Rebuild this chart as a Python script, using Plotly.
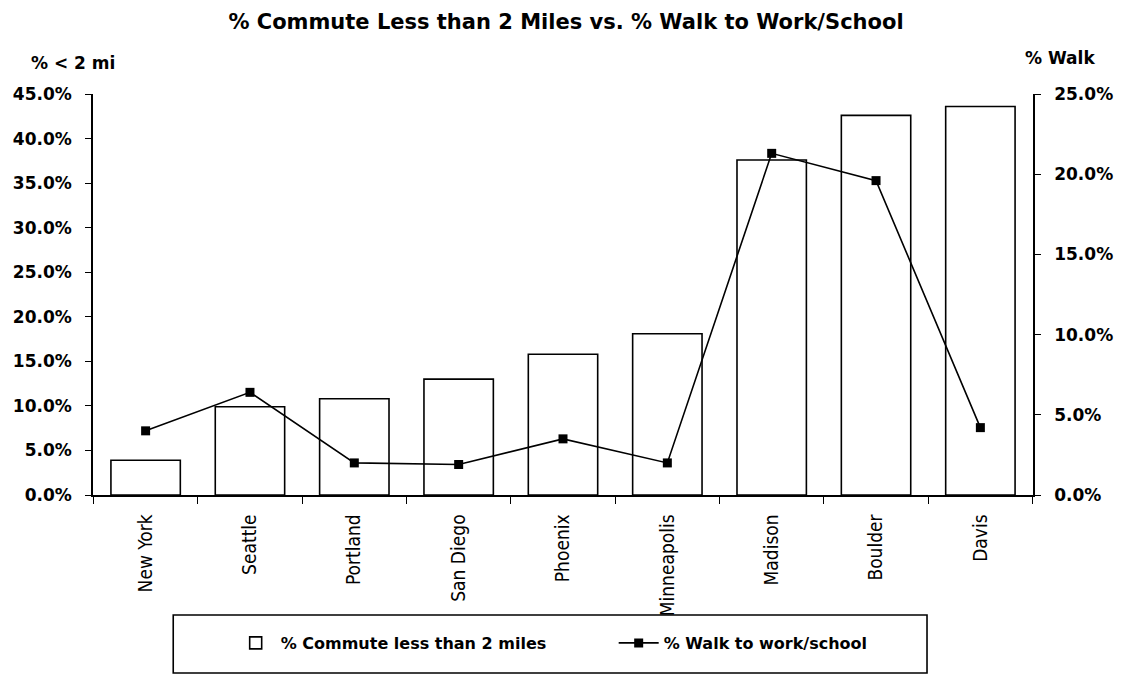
import plotly.graph_objects as go

cities = ["New York", "Seattle", "Portland", "San Diego", "Phoenix",
          "Minneapolis", "Madison", "Boulder", "Davis"]
commute_lt2 = [3.9, 9.9, 10.8, 13.0, 15.8, 18.1, 37.6, 42.6, 43.6]
walk_pct = [4.0, 6.4, 2.0, 1.9, 3.5, 2.0, 21.3, 19.6, 4.2]

left_ticks = [0, 5, 10, 15, 20, 25, 30, 35, 40, 45]
right_ticks = [0, 5, 10, 15, 20, 25]

BOLD = "DejaVu Sans"
NARROW = "Liberation Sans Narrow, DejaVu Sans Condensed, Liberation Sans"

fig = go.Figure()
fig.add_trace(go.Bar(
    x=cities, y=commute_lt2, name="<b>% Commute less than 2 miles</b>",
    marker=dict(color="white", line=dict(color="black", width=1.6)),
    yaxis="y",
))
fig.add_trace(go.Scatter(
    x=cities, y=walk_pct, name="<b>% Walk to work/school</b>",
    mode="lines+markers",
    line=dict(color="black", width=1.6),
    marker=dict(symbol="square", size=9, color="black"),
    yaxis="y2",
))

L, R, T, B = 93, 83, 94, 180
W, H = 1125, 675
pw, ph = W - L - R, H - T - B

def px(xabs):
    return (xabs - L) / pw

def py(yabs):
    return (H - B - yabs) / ph

fig.update_layout(
    width=W, height=H,
    paper_bgcolor="white", plot_bgcolor="white",
    margin=dict(l=L, r=R, t=T, b=B),
    bargap=0.335,
    title=dict(text="<b>% Commute Less than 2 Miles vs. % Walk to Work/School</b>",
               x=566 / W, xanchor="center", y=1 - 22 / H, yanchor="middle",
               font=dict(family=BOLD, size=21, color="black")),
    xaxis=dict(
        showline=True, linecolor="black", linewidth=1.6,
        ticks="outside", tickson="boundaries", ticklen=7, tickcolor="black", tickwidth=1.4,
        tickangle=-90, showgrid=False, ticklabelstandoff=10,
        tickfont=dict(family=NARROW, size=19, color="black"),
    ),
    yaxis=dict(
        range=[0, 45], tickvals=left_ticks,
        ticktext=[f"<b>{v:.1f}%</b>" for v in left_ticks],
        showline=True, linecolor="black", linewidth=1.6,
        ticks="outside", ticklen=6, tickcolor="black", tickwidth=1.4,
        showgrid=False, zeroline=False, ticklabelstandoff=10,
        tickfont=dict(family=BOLD, size=17, color="black"),
    ),
    yaxis2=dict(
        range=[0, 25], tickvals=right_ticks,
        ticktext=[f"<b>{v:.1f}%</b>" for v in right_ticks],
        overlaying="y", side="right",
        showline=True, linecolor="black", linewidth=1.6,
        ticks="outside", ticklen=6, tickcolor="black", tickwidth=1.4,
        showgrid=False, zeroline=False, ticklabelstandoff=10,
        tickfont=dict(family=BOLD, size=17, color="black"),
    ),
    legend=dict(
        orientation="h", x=px(232), xanchor="left", y=py(643), yanchor="middle",
        font=dict(family=BOLD, size=16, color="black"),
        bgcolor="rgba(0,0,0,0)", itemwidth=40,
        entrywidth=328, entrywidthmode="pixels",
    ),
    showlegend=True,
)

fig.add_shape(type="rect", xref="paper", yref="paper",
              x0=px(174), x1=px(935), y0=py(615), y1=py(673),
              line=dict(color="black", width=1.6), fillcolor="rgba(0,0,0,0)")

fig.add_annotation(text="<b>% &lt; 2 mi</b>", xref="paper", yref="paper",
                   x=px(28), y=py(63), xanchor="left", yanchor="middle", showarrow=False,
                   font=dict(family=BOLD, size=17, color="black"))
fig.add_annotation(text="<b>% Walk</b>", xref="paper", yref="paper",
                   x=px(1032), y=py(58), xanchor="left", yanchor="middle", showarrow=False,
                   font=dict(family=BOLD, size=17, color="black"))

fig.write_html("out.html", config={"displayModeBar": False},
               post_script="document.body.style.margin='0';document.body.style.overflow='hidden';")
